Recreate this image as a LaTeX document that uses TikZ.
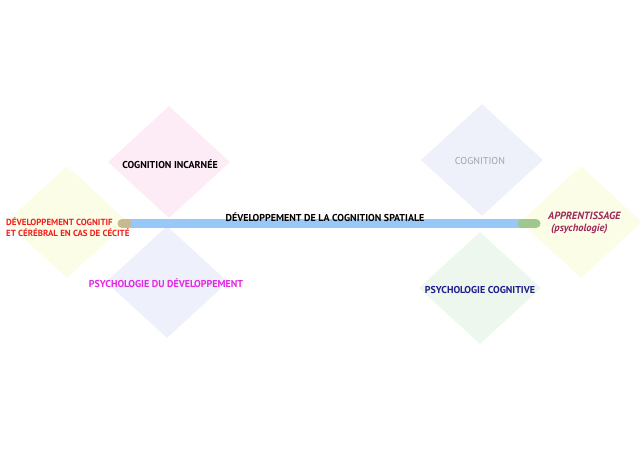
\documentclass[tikz,border=0pt]{standalone}
\usepackage{fontspec}
\setmainfont{PT Sans}
\usetikzlibrary{shapes.geometric}

\definecolor{rosepale}{RGB}{253,236,246}
\definecolor{jaunepale}{RGB}{251,253,230}
\definecolor{lavande}{RGB}{238,240,251}
\definecolor{gristeint}{RGB}{238,240,250}
\definecolor{vertpale}{RGB}{237,247,237}
\definecolor{barbleu}{RGB}{152,200,248}
\definecolor{barbeige}{RGB}{200,186,142}
\definecolor{barvert}{RGB}{160,200,142}
\definecolor{rouge}{RGB}{240,30,30}
\definecolor{magenta}{RGB}{226,40,226}
\definecolor{gristexte}{RGB}{160,162,176}
\definecolor{bordeaux}{RGB}{160,40,90}
\definecolor{marine}{RGB}{30,30,140}

\tikzset{
  lozenge/.style={diamond,fill=#1,draw=none,inner sep=0pt,minimum width=122pt,minimum height=112pt},
  caption/.style={font=\bfseries\fontsize{10}{11.5}\selectfont,inner sep=0pt},
  barre/.style={line width=9pt,#1},
}

\begin{document}
\begin{tikzpicture}[x=1pt,y=-1pt]
	\useasboundingbox (0,0) rectangle (640,453);
	% losanges
	\node[lozenge=rosepale] at (169,162) (incarnee) {};
	\node[lozenge=jaunepale] at (67,222) (cecite) {};
	\node[lozenge=lavande] at (167,282) (devpsy) {};
	\node[lozenge=gristeint] at (482,160) (cognition) {};
	\node[lozenge=jaunepale] at (581,222) (apprent) {};
	\node[lozenge=vertpale] at (480,288) (cogpsy) {};
	% barre
	\coordinate (barL) at (122,223.5);
	\coordinate (barR) at (536,223.5);
	\draw[barre=barbleu] ([xshift=5pt]barL) -- ([xshift=-14pt]barR);
	\draw[barre=barbeige,line cap=round] (barL) -- ([xshift=5pt]barL);
	\draw[barre=barvert,line cap=round] ([xshift=-14pt]barR) -- (barR);
	% textes
	\node[caption] at (325,217) (spatiale) {DÉVELOPPEMENT DE LA COGNITION SPATIALE};
	\node[caption] at (170,164) {COGNITION INCARNÉE};
	\node[caption,text=rouge,align=left,anchor=west,font=\bfseries\fontsize{8.9}{11}\selectfont] at (6,227.5) (cecitetxt) {DÉVELOPPEMENT COGNITIF\\ET CÉRÉBRAL EN CAS DE CÉCITÉ};
	\node[caption,text=magenta] at (166,283) {PSYCHOLOGIE DU DÉVELOPPEMENT};
	\node[caption,text=gristexte,font=\fontsize{10}{11.5}\selectfont] at (480,161) {COGNITION};
	\node[caption,text=bordeaux,font=\bfseries\itshape\fontsize{10.5}{12}\selectfont,align=left,anchor=west] at (548,223) (apprenttxt) {APPRENTISSAGE\\\hspace*{3pt}(psychologie)};
	\node[caption,text=marine] at (480,290) {PSYCHOLOGIE COGNITIVE};
\end{tikzpicture}
\end{document}
